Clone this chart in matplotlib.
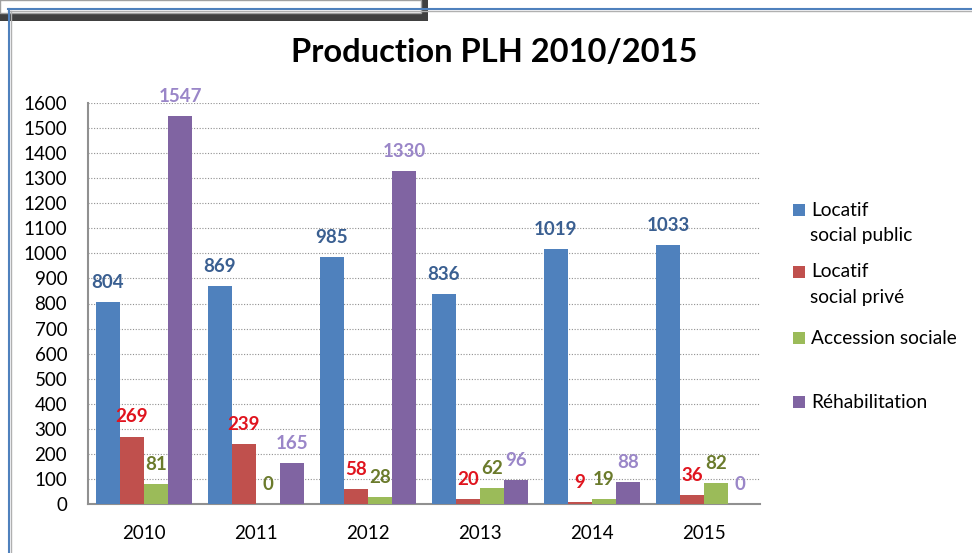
import matplotlib.pyplot as plt
from matplotlib.patches import Rectangle
from matplotlib.lines import Line2D
import numpy as np

plt.rcParams['font.family'] = ['Lato', 'DejaVu Sans']

# data
years = ['2010', '2011', '2012', '2013', '2014', '2015']
series_names = ['Locatif\nsocial public', 'Locatif\nsocial privé', 'Accession sociale', 'Réhabilitation']
locatif_public = [804, 869, 985, 836, 1019, 1033]
locatif_prive = [269, 239, 58, 20, 9, 36]
accession = [81, 0, 28, 62, 19, 82]
rehabilitation = [1547, 165, 1330, 96, 88, 0]

bar_colors = ['#4F81BD', '#C0504D', '#9BBB59', '#8064A2']
label_colors = ['#3A5F91', '#E0141E', '#6B7B2C', '#9A86C8']

W, H = 972, 553
fig = plt.figure(figsize=(W / 100, H / 100), dpi=100)


def fx(x):
    return x / W


def fy(y):
    return 1 - y / H


# frame decorations (blue chart border, dark box at top left)
fig.add_artist(Line2D([fx(8), 1], [fy(9), fy(9)], color='#4F81BD', lw=1.5))
fig.add_artist(Line2D([fx(8), 1], [fy(11), fy(11)], color='#B0B0B0', lw=1.0))
fig.add_artist(Line2D([fx(9), fx(9)], [fy(9), 0], color='#4F81BD', lw=1.5))
fig.add_artist(Line2D([fx(11), fx(11)], [fy(11), 0], color='#B0B0B0', lw=1.0))
fig.add_artist(Rectangle((0, fy(21)), fx(428), fy(0) - fy(21), transform=fig.transFigure,
                         facecolor='#404040', edgecolor='none'))
fig.add_artist(Rectangle((0, fy(13)), fx(421), fy(0) - fy(13), transform=fig.transFigure,
                         facecolor='white', edgecolor='#A0A0A0', lw=1))

ax = fig.add_axes([fx(88), fy(504), fx(760) - fx(88), fy(103) - fy(504)])

x = np.arange(len(years))
bw = 0.215
data = [locatif_public, locatif_prive, accession, rehabilitation]
for i, vals in enumerate(data):
    pos = x + (i - 1.5) * bw
    ax.bar(pos, vals, bw, color=bar_colors[i], zorder=3)
    for p, v in zip(pos, vals):
        ax.annotate(str(v), (p, v), xytext=(0, 8), textcoords='offset points',
                    ha='center', va='bottom', fontsize=13.5, fontweight='bold',
                    color=label_colors[i], zorder=4)

ax.set_xlim(-0.5, len(years) - 0.5)
ax.set_ylim(0, 1600)
ax.set_yticks(np.arange(0, 1601, 100))
ax.set_xticks(x)
ax.set_xticklabels(years)
ax.tick_params(axis='y', length=0, pad=15, labelsize=13.5)
ax.tick_params(axis='x', length=0, pad=15, labelsize=13.5)
ax.yaxis.grid(True, linestyle=(0, (1, 1.5)), color='#909090', lw=0.8, zorder=0)
for s in ['top', 'right']:
    ax.spines[s].set_visible(False)
for s in ['left', 'bottom']:
    ax.spines[s].set_color('#909090')
    ax.spines[s].set_linewidth(1.5)

fig.text(fx(494), fy(52), 'Production PLH 2010/2015', ha='center', va='center',
         fontsize=23.5, fontweight='bold')

# legend drawn by hand so that the square sits on the first line
legend_y = [210, 272, 338, 402]
for i, name in enumerate(series_names):
    y = legend_y[i]
    fig.add_artist(Rectangle((fx(793), fy(y + 6)), fx(12), fy(y - 6) - fy(y + 6),
                             transform=fig.transFigure, facecolor=bar_colors[i], edgecolor='none'))
    lines = name.split('\n')
    fig.text(fx(811), fy(y), lines[0], ha='left', va='center', fontsize=13.8)
    if len(lines) > 1:
        fig.text(fx(810), fy(y + 25), lines[1], ha='left', va='center', fontsize=13.8)

fig.savefig('out.png', dpi=100)
